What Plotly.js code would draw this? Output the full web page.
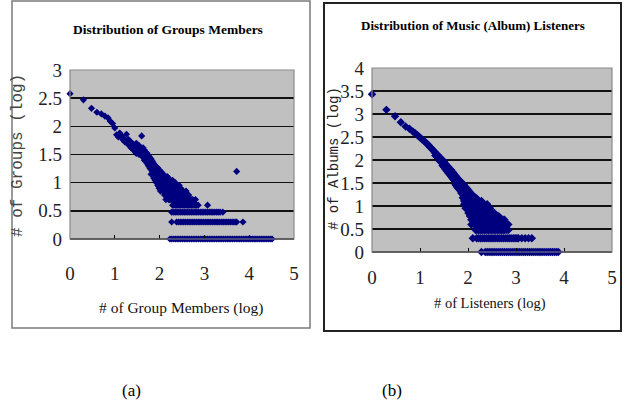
<!DOCTYPE html>
<html>
<head>
<meta charset="utf-8">
<script src="https://cdn.plot.ly/plotly-3.0.1.min.js"></script>
<style>html,body{margin:0;padding:0;background:#fff;}#chart{width:626px;height:405px;}</style>
</head>
<body>
<div id="chart"></div>
<script>
// ---------- Data: (a) Distribution of Groups Members ----------
const aHeadX = [0, 0.30, 0.48, 0.60, 0.70, 0.78, 0.85, 0.90, 0.95, 1.00, 1.04, 1.08, 1.11, 1.15, 1.18, 1.20, 1.23, 1.26, 1.28, 1.30, 1.32, 1.34, 1.36, 1.38, 1.40];
const aHeadY = [2.58, 2.47, 2.32, 2.25, 2.22, 2.18, 2.15, 2.09, 2.05, 1.97, 1.85, 1.81, 1.88, 1.83, 1.76, 1.78, 1.72, 1.86, 1.70, 1.77, 1.66, 1.74, 1.62, 1.70, 1.60];
const aColX = [1.42, 1.45, 1.48, 1.51, 1.54, 1.57, 1.60, 1.63, 1.66, 1.69, 1.72, 1.75, 1.78, 1.81, 1.84, 1.87, 1.90, 1.93, 1.96, 1.99,
  2.02, 2.05, 2.08, 2.11, 2.14, 2.17, 2.20, 2.23, 2.26, 2.29, 2.32, 2.35, 2.38, 2.41, 2.44, 2.47, 2.50, 2.53, 2.56, 2.59,
  2.62, 2.65, 2.68, 2.71, 2.74, 2.77, 2.80, 2.83, 2.86];
const aColY = [
  [1.68, 1.58], [1.64, 1.55], [1.70, 1.60, 1.52], [1.62, 1.55], [1.66, 1.58, 1.50], [1.60, 1.53], [1.83, 1.56, 1.48],
  [1.62, 1.52, 1.45], [1.58, 1.48, 1.40], [1.54, 1.46, 1.38], [1.52, 1.43, 1.34], [1.48, 1.40, 1.30], [1.45, 1.36, 1.26],
  [1.42, 1.32, 1.23, 1.15], [1.38, 1.30, 1.20], [1.34, 1.26, 1.18, 1.08], [1.30, 1.23, 1.15, 1.04], [1.28, 1.20, 1.11, 1.00],
  [1.26, 1.18, 1.08, 0.95], [1.23, 1.15, 1.04, 0.90], [1.20, 1.11, 1.00, 0.85], [1.18, 1.08, 0.95, 0.90], [1.15, 1.04, 0.95, 0.85],
  [1.11, 1.00, 0.90, 0.78], [1.08, 1.00, 0.90, 0.78, 0.70], [1.11, 1.04, 0.95, 0.85, 0.78], [1.08, 1.00, 0.90, 0.78, 0.70],
  [1.04, 0.95, 0.85, 0.78, 0.70], [1.00, 0.90, 0.85, 0.78, 0.70], [1.04, 0.95, 0.85, 0.78, 0.70, 0.60], [0.95, 0.90, 0.78, 0.70, 0.60],
  [1.00, 0.90, 0.85, 0.78, 0.70, 0.60], [0.95, 0.85, 0.78, 0.70, 0.60], [0.90, 0.85, 0.78, 0.70, 0.60], [0.95, 0.85, 0.78, 0.70, 0.60],
  [0.90, 0.78, 0.70, 0.60], [0.85, 0.78, 0.70, 0.60], [0.85, 0.78, 0.70, 0.60], [0.78, 0.70, 0.60], [0.85, 0.78, 0.70, 0.60],
  [0.78, 0.70, 0.60], [0.78, 0.70, 0.60], [0.70, 0.60], [0.70, 0.60], [0.70, 0.60], [0.60], [0.70, 0.60], [0.60], [0.60]
];
const aExtraX = [3.07, 3.72];
const aExtraY = [0.60, 1.20];
const aBandLevels = [0, 0.301, 0.477];
const aBandX = [
  [2.23, 2.27, 2.31, 2.35, 2.39, 2.43, 2.47, 2.51, 2.55, 2.59, 2.63, 2.67, 2.71, 2.75, 2.79, 2.83, 2.87, 2.91, 2.95, 2.99,
   3.03, 3.07, 3.11, 3.15, 3.19, 3.23, 3.27, 3.31, 3.35, 3.39, 3.43, 3.47, 3.51, 3.55, 3.59, 3.63, 3.67, 3.71, 3.75, 3.79,
   3.83, 3.87, 3.91, 3.95, 3.99, 4.03, 4.07, 4.11, 4.15, 4.19, 4.23, 4.27, 4.31, 4.35, 4.39, 4.43, 4.47, 4.51],
  [2.27, 2.38, 2.42, 2.46, 2.50, 2.54, 2.58, 2.62, 2.66, 2.70, 2.74, 2.78, 2.82, 2.86, 2.90, 2.94, 2.98, 3.02, 3.06, 3.10,
   3.14, 3.18, 3.22, 3.26, 3.30, 3.34, 3.38, 3.42, 3.46, 3.50, 3.54, 3.58, 3.62, 3.66, 3.70, 3.72, 3.86],
  [2.27, 2.31, 2.35, 2.39, 2.43, 2.47, 2.51, 2.55, 2.59, 2.63, 2.67, 2.71, 2.75, 2.79, 2.83, 2.87, 2.91, 2.95, 2.99, 3.03,
   3.07, 3.11, 3.15, 3.19, 3.23, 3.27, 3.31, 3.35, 3.41]
];

// ---------- Data: (b) Distribution of Music (Album) Listeners ----------
const bHeadX = [0, 0.30, 0.48, 0.60, 0.70, 0.78, 0.85, 0.90, 0.95, 1.00, 1.04, 1.08, 1.11, 1.15, 1.18, 1.20, 1.23, 1.26, 1.28, 1.30];
const bHeadY = [3.43, 3.09, 2.95, 2.82, 2.73, 2.68, 2.62, 2.58, 2.54, 2.49, 2.45, 2.42, 2.39, 2.35, 2.32, 2.29, 2.26, 2.23, 2.20, 2.18];
const bColX = [1.32, 1.35, 1.38, 1.41, 1.44, 1.47, 1.50, 1.53, 1.56, 1.59, 1.62, 1.65, 1.68, 1.71, 1.74, 1.77, 1.80, 1.83, 1.86, 1.89,
  1.92, 1.95, 1.98, 2.01, 2.04, 2.07, 2.10, 2.13, 2.16, 2.19, 2.22, 2.25, 2.28, 2.31, 2.34, 2.37, 2.40, 2.43, 2.46, 2.49,
  2.52, 2.55, 2.58, 2.61, 2.64, 2.67, 2.70, 2.73, 2.76, 2.80, 2.84];
const bColY = [
  [2.15, 2.10], [2.12, 2.07], [2.10, 2.04], [2.06, 2.00, 1.98], [2.02, 1.96], [2.00, 1.93, 1.88], [1.96, 1.90, 1.85],
  [1.92, 1.86, 1.80], [1.88, 1.82, 1.76], [1.85, 1.78, 1.72], [1.81, 1.75, 1.68], [1.78, 1.71, 1.64], [1.74, 1.67, 1.60],
  [1.70, 1.63, 1.56], [1.66, 1.59, 1.52, 1.46], [1.62, 1.55, 1.48, 1.42], [1.58, 1.51, 1.44, 1.38], [1.54, 1.47, 1.40, 1.34],
  [1.52, 1.44, 1.36, 1.28], [1.48, 1.40, 1.32, 1.25, 1.18], [1.45, 1.36, 1.28, 1.20, 1.11, 1.04], [1.41, 1.32, 1.25, 1.15, 1.04, 0.95],
  [1.38, 1.30, 1.20, 1.11, 1.00], [1.34, 1.26, 1.18, 1.08, 0.95, 0.85], [1.30, 1.23, 1.15, 1.04, 0.95, 0.85, 0.78],
  [1.26, 1.18, 1.11, 1.00, 0.90, 0.78, 0.70, 0.60], [1.23, 1.15, 1.04, 0.95, 0.85, 0.78, 0.70], [1.20, 1.11, 1.00, 0.90, 0.78, 0.70, 0.60],
  [1.18, 1.08, 0.95, 0.85, 0.78, 0.70, 0.60, 0.48], [1.15, 1.04, 0.95, 0.85, 0.78, 0.70, 0.60, 0.48],
  [1.11, 1.00, 0.90, 0.85, 0.78, 0.70, 0.60, 0.48], [1.08, 1.00, 0.90, 0.78, 0.70, 0.60, 0.48], [1.11, 1.04, 0.95, 0.85, 0.78, 0.70, 0.60, 0.48],
  [1.00, 0.90, 0.85, 0.78, 0.70, 0.60, 0.48], [1.04, 0.95, 0.90, 0.78, 0.70, 0.60, 0.48], [1.00, 0.90, 0.85, 0.78, 0.70, 0.60, 0.48],
  [1.04, 0.95, 0.85, 0.78, 0.70, 0.60, 0.48], [0.95, 0.90, 0.85, 0.78, 0.70, 0.60, 0.48], [0.95, 0.85, 0.78, 0.70, 0.60, 0.48],
  [0.85, 0.78, 0.70, 0.60, 0.48], [0.85, 0.78, 0.70, 0.60, 0.48], [0.85, 0.78, 0.70, 0.60, 0.48], [0.78, 0.70, 0.60, 0.48],
  [0.78, 0.70, 0.60, 0.48], [0.78, 0.70, 0.60, 0.48], [0.70, 0.60, 0.48], [0.70, 0.60, 0.48], [0.70, 0.60, 0.48], [0.70, 0.60, 0.48],
  [0.60, 0.48], [0.60, 0.48]
];
const bBandLevels = [0, 0.301];
const bBandX = [
  [2.28, 2.36, 2.40, 2.44, 2.48, 2.52, 2.56, 2.60, 2.64, 2.68, 2.72, 2.76, 2.80, 2.84, 2.88, 2.92, 2.96, 3.00, 3.04, 3.08,
   3.12, 3.16, 3.20, 3.24, 3.28, 3.32, 3.36, 3.40, 3.44, 3.48, 3.52, 3.56, 3.60, 3.64, 3.68, 3.72, 3.76, 3.80, 3.84, 3.88],
  [2.10, 2.18, 2.22, 2.26, 2.30, 2.34, 2.38, 2.42, 2.46, 2.50, 2.54, 2.58, 2.62, 2.66, 2.70, 2.74, 2.78, 2.82, 2.86, 2.90,
   2.94, 2.98, 3.02, 3.05, 3.12, 3.19, 3.26, 3.33]
];

// ---------- Text ----------
const titleA = "Distribution of Groups Members";
const xTitleA = "# of Group Members (log)";
const yTitleA = "# of Groups (log)";
const titleB = "Distribution of Music (Album) Listeners";
const xTitleB = "# of Listeners (log)";
const yTitleB = "# of Albums (log)";
const captions = ["(a)", "(b)"];

// ---------- Build traces ----------
function flatten(headX, headY, colX, colY, extraX, extraY, bandLevels, bandX) {
  const xs = headX.slice(), ys = headY.slice();
  colX.forEach((x, i) => colY[i].forEach(y => { xs.push(x); ys.push(y); }));
  extraX.forEach((x, i) => { xs.push(x); ys.push(extraY[i]); });
  bandLevels.forEach((lv, i) => bandX[i].forEach(x => { xs.push(x); ys.push(lv); }));
  return {x: xs, y: ys};
}
const A = flatten(aHeadX, aHeadY, aColX, aColY, aExtraX, aExtraY, aBandLevels, aBandX);
const B = flatten(bHeadX, bHeadY, bColX, bColY, [], [], bBandLevels, bBandX);

const navy = '#00007f';
const traces = [
  {x: A.x, y: A.y, xaxis: 'x', yaxis: 'y', type: 'scatter', mode: 'markers', cliponaxis: false,
   marker: {symbol: 'diamond', size: 5.5, color: navy}, hoverinfo: 'skip'},
  {x: B.x, y: B.y, xaxis: 'x2', yaxis: 'y2', type: 'scatter', mode: 'markers', cliponaxis: false,
   marker: {symbol: 'diamond', size: 6.5, color: navy}, hoverinfo: 'skip'}
];

const W = 626, H = 405;
const px = v => v / W, py = v => 1 - v / H;
const serif = 'Liberation Serif';
const tickFont = {family: serif, size: 19, color: '#222'};

function xAx(dom, anchor, standoff) {
  return {domain: dom, anchor: anchor, range: [0, 5], dtick: 1, tick0: 0, showgrid: false, zeroline: false,
    showline: false, ticks: 'inside', ticklen: 4, tickcolor: '#000', tickwidth: 1, tickfont: Object.assign({}, tickFont),
    ticklabelstandoff: standoff, fixedrange: true};
}
function yAx(dom, anchor, top) {
  return {domain: dom, anchor: anchor, range: [0, top], dtick: 0.5, tick0: 0, showgrid: true,
    gridcolor: '#111', gridwidth: 1.5, zeroline: false, showline: false, ticks: '', tickfont: Object.assign({}, tickFont),
    ticklabelstandoff: 7, fixedrange: true};
}

const shapes = [];
// panel frames
shapes.push({type: 'rect', xref: 'paper', yref: 'paper', x0: px(12), x1: px(310), y0: py(328), y1: py(1),
  line: {color: '#7a7a7a', width: 1.5}, fillcolor: 'rgba(0,0,0,0)', layer: 'below'});
shapes.push({type: 'rect', xref: 'paper', yref: 'paper', x0: px(324), x1: px(621), y0: py(331), y1: py(3),
  line: {color: '#222', width: 2}, fillcolor: 'rgba(0,0,0,0)', layer: 'below'});
// plot area frames and baseline
[['x', 'y'], ['x2', 'y2']].forEach(([xa, ya]) => {
  shapes.push({type: 'rect', xref: xa + ' domain', yref: ya + ' domain', x0: 0, x1: 1, y0: 0, y1: 1,
    line: {color: '#8a8a8a', width: 1.2}, fillcolor: 'rgba(0,0,0,0)', layer: 'above'});
  shapes.push({type: 'line', xref: xa + ' domain', yref: ya + ' domain', x0: 0, x1: 1, y0: 0, y1: 0,
    line: {color: '#000', width: 1.5}, layer: 'below'});
});

const ann = (text, x, y, font, extra) => Object.assign({text: text, xref: 'paper', yref: 'paper', x: x, y: y,
  xanchor: 'center', yanchor: 'middle', showarrow: false, font: font}, extra || {});
const annotations = [
  ann('<b>' + titleA + '</b>', px(168), py(29), {family: serif, size: 13.5, color: '#000'}),
  ann(xTitleA, px(181), py(308), {family: serif, size: 15.5, color: '#111'}),
  ann(yTitleA, px(18), py(156), {family: 'Liberation Mono', size: 16, color: '#444'}, {textangle: -90}),
  ann('<b>' + titleB + '</b>', px(473), py(25), {family: serif, size: 13, color: '#000'}),
  ann(xTitleB, px(490), py(303), {family: serif, size: 14.5, color: '#111'}),
  ann(yTitleB, px(334), py(159), {family: 'Liberation Mono', size: 14, color: '#222'}, {textangle: -90}),
  ann(captions[0], px(131), py(390), {family: serif, size: 17, color: '#000'}),
  ann(captions[1], px(392), py(390), {family: serif, size: 17, color: '#000'})
];

const layout = {
  width: W, height: H, margin: {l: 0, r: 0, t: 0, b: 0},
  paper_bgcolor: '#fff', plot_bgcolor: '#c0c0c0', showlegend: false,
  font: {family: serif},
  xaxis: xAx([px(70), px(294)], 'y', 21),
  yaxis: yAx([py(239), py(70)], 'x', 3),
  xaxis2: xAx([px(372), px(612)], 'y2', 12),
  yaxis2: yAx([py(252), py(68)], 'x2', 4),
  shapes: shapes, annotations: annotations
};

Plotly.newPlot('chart', traces, layout, {displayModeBar: false, staticPlot: true});
</script>
</body>
</html>
